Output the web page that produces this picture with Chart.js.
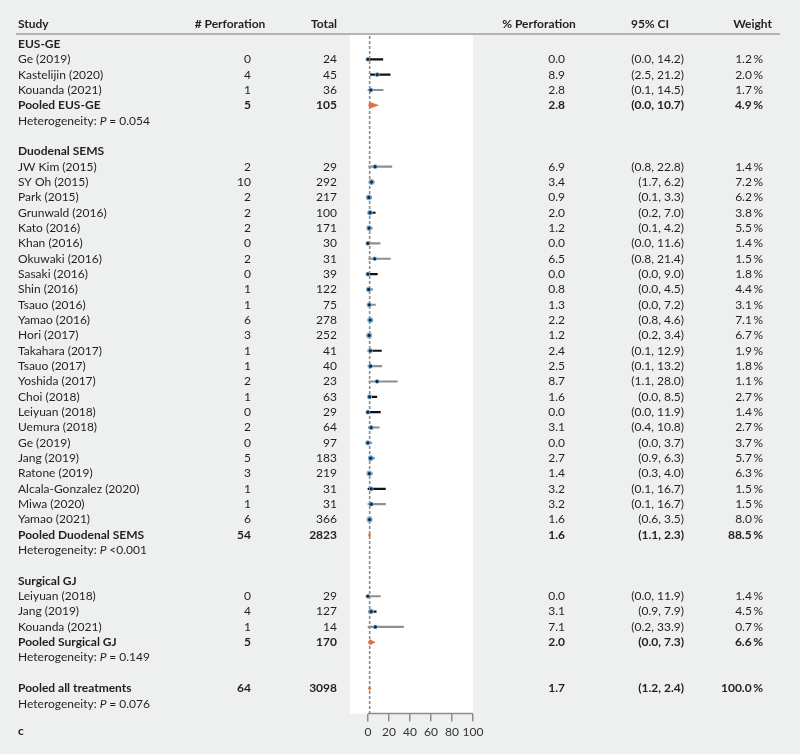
<!DOCTYPE html>
<html>
<head>
<meta charset="utf-8">
<script src="https://cdn.jsdelivr.net/npm/chart.js@4.4.1/dist/chart.umd.min.js"></script>
<style>
  html, body { margin: 0; padding: 0; background: #eef0f0; }
  canvas { display: block; }
</style>
</head>
<body>
<canvas id="forest" width="800" height="754"></canvas>
<script>
// ---- data ----
var groupNames = ["EUS-GE", "Duodenal SEMS", "Surgical GJ"];
var groupSizes = [3, 24, 3];

var studyNames = [
  "Ge (2019)", "Kastelijin (2020)", "Kouanda (2021)",
  "JW Kim (2015)", "SY Oh (2015)", "Park (2015)", "Grunwald (2016)", "Kato (2016)",
  "Khan (2016)", "Okuwaki (2016)", "Sasaki (2016)", "Shin (2016)", "Tsauo (2016)",
  "Yamao (2016)", "Hori (2017)", "Takahara (2017)", "Tsauo (2017)", "Yoshida (2017)",
  "Choi (2018)", "Leiyuan (2018)", "Uemura (2018)", "Ge (2019)", "Jang (2019)",
  "Ratone (2019)", "Alcala-Gonzalez (2020)", "Miwa (2020)", "Yamao (2021)",
  "Leiyuan (2018)", "Jang (2019)", "Kouanda (2021)"
];
var perforations = [0, 4, 1, 2, 10, 2, 2, 2, 0, 2, 0, 1, 1, 6, 3, 1, 1, 2, 1, 0, 2, 0, 5, 3, 1, 1, 6, 0, 4, 1];
var totals = [24, 45, 36, 29, 292, 217, 100, 171, 30, 31, 39, 122, 75, 278, 252, 41, 40, 23, 63, 29, 64, 97, 183, 219, 31, 31, 366, 29, 127, 14];
var estimates = [0.0, 8.9, 2.8, 6.9, 3.4, 0.9, 2.0, 1.2, 0.0, 6.5, 0.0, 0.8, 1.3, 2.2, 1.2, 2.4, 2.5, 8.7, 1.6, 0.0, 3.1, 0.0, 2.7, 1.4, 3.2, 3.2, 1.6, 0.0, 3.1, 7.1];
var ciLow = [0.0, 2.5, 0.1, 0.8, 1.7, 0.1, 0.2, 0.1, 0.0, 0.8, 0.0, 0.0, 0.0, 0.8, 0.2, 0.1, 0.1, 1.1, 0.0, 0.0, 0.4, 0.0, 0.9, 0.3, 0.1, 0.1, 0.6, 0.0, 0.9, 0.2];
var ciHigh = [14.2, 21.2, 14.5, 22.8, 6.2, 3.3, 7.0, 4.2, 11.6, 21.4, 9.0, 4.5, 7.2, 4.6, 3.4, 12.9, 13.2, 28.0, 8.5, 11.9, 10.8, 3.7, 6.3, 4.0, 16.7, 16.7, 3.5, 11.9, 7.9, 33.9];
var weights = [1.2, 2.0, 1.7, 1.4, 7.2, 6.2, 3.8, 5.5, 1.4, 1.5, 1.8, 4.4, 3.1, 7.1, 6.7, 1.9, 1.8, 1.1, 2.7, 1.4, 2.7, 3.7, 5.7, 6.3, 1.5, 1.5, 8.0, 1.4, 4.5, 0.7];

var pooledNames = ["Pooled EUS-GE", "Pooled Duodenal SEMS", "Pooled Surgical GJ", "Pooled all treatments"];
var pooledPerf = [5, 54, 5, 64];
var pooledTotal = [105, 2823, 170, 3098];
var pooledEst = [2.8, 1.6, 2.0, 1.7];
var pooledLow = [0.0, 1.1, 0.0, 1.2];
var pooledHigh = [10.7, 2.3, 7.3, 2.4];
var pooledWeight = [4.9, 88.5, 6.6, 100.0];
var heterogeneityP = ["= 0.054", "<0.001", "= 0.149", "= 0.076"];

var xTicks = [0, 20, 40, 60, 80, 100];

// ---- styles ----
var FONT = "Lato";
var TEXT = "#231f20";
// CI line shade per study, as it looks in the figure (k = black, g = grey)
var ciShade = "kkg" + "ggkkgggkggkkkggkkgggkkgk" + "gkg";

// ---- work out which row everything sits on ----
var studyRows = [], pooledRows = [], groupRows = [];
var r = 0, s = 0;
groupNames.forEach(function (g, gi) {
  groupRows.push(r);
  for (var i = 0; i < groupSizes[gi]; i++) studyRows[s++] = r + 1 + i;
  pooledRows.push(r + groupSizes[gi] + 1);
  r += groupSizes[gi] + 4;
});
pooledRows.push(r);

var ciData = studyNames.map(function (n, i) { return { x: [ciLow[i], ciHigh[i]], y: studyRows[i] }; });
var pointData = studyNames.map(function (n, i) { return { x: estimates[i], y: studyRows[i] }; });

var cols = { perf: 251, total: 337, pct: 565, ci: 684, weight: 763 };

function fmt(v) { return v.toFixed(1); }

var forestPlugin = {
  id: "forest",
  beforeDraw: function (chart) {
    var c = chart.ctx, a = chart.chartArea;
    c.save();
    c.fillStyle = "#eef0f0";
    c.fillRect(0, 0, chart.width, chart.height);
    c.fillStyle = "#ffffff";
    c.fillRect(a.left, a.top, a.right - a.left, a.bottom - a.top);
    c.restore();
  },
  beforeDatasetsDraw: function (chart) {
    var c = chart.ctx, a = chart.chartArea, xs = chart.scales.x;
    var px = xs.getPixelForValue(pooledEst[3]);
    c.save();
    c.strokeStyle = "#8a8a8a";
    c.lineWidth = 1.6;
    c.setLineDash([3, 2]);
    c.beginPath();
    c.moveTo(px, a.top + 2);
    c.lineTo(px, a.bottom);
    c.stroke();
    c.restore();
  },
  afterDraw: function (chart) {
    var c = chart.ctx, a = chart.chartArea, xs = chart.scales.x, ys = chart.scales.y;
    c.save();

    // axis line only over 0..100
    c.strokeStyle = "#8c8c8c";
    c.lineWidth = 1.5;
    c.beginPath();
    c.moveTo(xs.getPixelForValue(xTicks[0]), a.bottom);
    c.lineTo(xs.getPixelForValue(xTicks[xTicks.length - 1]), a.bottom);
    c.stroke();

    // pooled diamonds
    c.fillStyle = "#e2703f";
    pooledEst.forEach(function (e, i) {
      var y = ys.getPixelForValue(pooledRows[i]);
      var l = xs.getPixelForValue(pooledLow[i]), m = xs.getPixelForValue(e), h = xs.getPixelForValue(pooledHigh[i]);
      if (h - l < 3) { l = m - 1.5; h = m + 1.5; }
      c.beginPath();
      c.moveTo(l, y);
      c.lineTo(m, y - 3);
      c.lineTo(h, y);
      c.lineTo(m, y + 3);
      c.closePath();
      c.fill();
    });

    // header
    c.fillStyle = TEXT;
    c.textBaseline = "middle";
    c.font = "bold 12px " + FONT;
    var hy = 24;
    c.textAlign = "left"; c.fillText("Study", 18, hy);
    c.textAlign = "center"; c.fillText("# Perforation", 230, hy);
    c.textAlign = "right"; c.fillText("Total", 337, hy);
    c.textAlign = "center"; c.fillText("% Perforation", 539, hy);
    c.textAlign = "center"; c.fillText("95% CI", 650, hy);
    c.textAlign = "right"; c.fillText("Weight", 772, hy);
    c.strokeStyle = "#b4b4b4";
    c.lineWidth = 2;
    c.beginPath(); c.moveTo(16, 34); c.lineTo(780, 34); c.stroke();

    function row(y, name, perf, tot, est, lo, hi, w, bold) {
      c.font = (bold ? "bold " : "") + "12px " + FONT;
      c.textAlign = "left"; c.fillText(name, 18, y);
      c.textAlign = "right";
      c.fillText(String(perf), cols.perf, y);
      c.fillText(String(tot), cols.total, y);
      c.fillText(fmt(est), cols.pct, y);
      c.fillText("(" + fmt(lo) + ", " + fmt(hi) + ")", cols.ci, y);
      c.fillText(fmt(w) + "\u2009%", cols.weight, y);
    }

    groupNames.forEach(function (g, i) {
      c.font = "bold 12px " + FONT;
      c.textAlign = "left";
      c.fillText(g, 18, ys.getPixelForValue(groupRows[i]));
    });
    studyNames.forEach(function (n, i) {
      row(ys.getPixelForValue(studyRows[i]), n, perforations[i], totals[i], estimates[i], ciLow[i], ciHigh[i], weights[i], false);
    });
    pooledNames.forEach(function (n, i) {
      var y = ys.getPixelForValue(pooledRows[i]);
      row(y, n, pooledPerf[i], pooledTotal[i], pooledEst[i], pooledLow[i], pooledHigh[i], pooledWeight[i], true);
      var hy2 = ys.getPixelForValue(pooledRows[i] + 1), x = 18;
      c.textAlign = "left";
      c.font = "12px " + FONT;
      c.fillText("Heterogeneity: ", x, hy2); x += c.measureText("Heterogeneity: ").width;
      c.font = "italic 12px " + FONT;
      c.fillText("P", x, hy2); x += c.measureText("P ").width;
      c.font = "12px " + FONT;
      c.fillText(heterogeneityP[i], x, hy2);
    });

    c.font = "bold 12px " + FONT;
    c.textAlign = "left";
    c.fillText("c", 18, 731);
    c.restore();
  }
};

new Chart(document.getElementById("forest"), {
  type: "scatter",
  data: {
    datasets: [
      {
        type: "bar",
        indexAxis: "y",
        data: ciData,
        backgroundColor: studyNames.map(function (n, i) { return ciShade[i] === "k" ? "#111111" : "#8e8e8e"; }),
        borderWidth: 0,
        barThickness: 1.5,
        order: 3
      },
      {
        data: pointData,
        backgroundColor: "#79aed3",
        borderWidth: 0,
        pointRadius: weights.map(function (w) { return 1.8 + Math.sqrt(w) * 0.45; }),
        order: 2
      },
      {
        data: pointData,
        backgroundColor: "#0f2a48",
        borderWidth: 0,
        pointRadius: 1.6,
        order: 1
      }
    ]
  },
  options: {
    responsive: false,
    animation: false,
    layout: { padding: { left: 350, right: 327, top: 34, bottom: 12 } },
    plugins: { legend: { display: false }, tooltip: { enabled: false } },
    scales: {
      x: {
        type: "linear",
        min: -17,
        max: 100,
        offset: false,
        afterBuildTicks: function (scale) {
          scale.ticks = xTicks.map(function (v) { return { value: v }; });
        },
        border: { display: false },
        grid: { drawOnChartArea: false, drawTicks: true, tickLength: 8, color: "#8c8c8c", lineWidth: 1.5 },
        ticks: { color: "#333333", padding: 3, font: { family: FONT, size: 12 }, autoSkip: false, maxRotation: 0 }
      },
      y: {
        type: "linear",
        reverse: true,
        offset: false,
        min: -0.65,
        max: 43.65,
        display: false
      }
    }
  },
  plugins: [forestPlugin]
});
</script>
</body>
</html>
